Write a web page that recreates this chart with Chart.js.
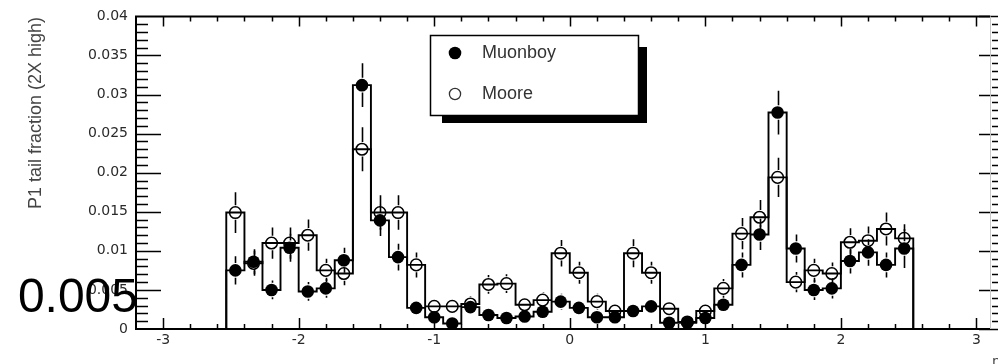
<!DOCTYPE html>
<html>
<head>
<meta charset="utf-8">
<title>P1 tail fraction</title>
<script src="https://cdn.jsdelivr.net/npm/chart.js@4.4.1/dist/chart.umd.min.js"></script>
<style>
  html, body { margin: 0; padding: 0; background: #fff; }
  canvas { display: block; }
</style>
</head>
<body>
<canvas id="chart_tail" width="998" height="364"></canvas>
<script>
// eta bin centres (38 bins)
var etaBins = [-2.467, -2.333, -2.2, -2.067, -1.933, -1.8, -1.667, -1.533, -1.4, -1.267,
               -1.133, -1.0, -0.867, -0.733, -0.6, -0.467, -0.333, -0.2, -0.067, 0.067,
               0.2, 0.333, 0.467, 0.6, 0.733, 0.867, 1.0, 1.133, 1.267, 1.4,
               1.533, 1.667, 1.8, 1.933, 2.067, 2.2, 2.333, 2.467];

var muonboy = [0.0075, 0.0086, 0.0050, 0.0104, 0.0048, 0.0052, 0.0088, 0.0312, 0.0139, 0.0092,
               0.0027, 0.0015, 0.0007, 0.0028, 0.0018, 0.0014, 0.0016, 0.0022, 0.0035, 0.0027,
               0.0015, 0.0015, 0.0023, 0.0029, 0.0008, 0.0008, 0.0014, 0.0031, 0.0082, 0.0121,
               0.0277, 0.0103, 0.0050, 0.0052, 0.0087, 0.0098, 0.0082, 0.0103];
var muonboyErr = [0.0018, 0.0016, 0.0012, 0.0018, 0.0012, 0.0012, 0.0016, 0.0028, 0.0020, 0.0017,
                  0.0008, 0.0007, 0.0005, 0.0009, 0.0007, 0.0006, 0.0007, 0.0008, 0.0010, 0.0009,
                  0.0007, 0.0007, 0.0008, 0.0009, 0.0005, 0.0005, 0.0006, 0.0009, 0.0016, 0.0020,
                  0.0028, 0.0018, 0.0013, 0.0013, 0.0016, 0.0017, 0.0016, 0.0025];

var moore = [0.0149, 0.0084, 0.0110, 0.0110, 0.0120, 0.0075, 0.0071, 0.0230, 0.0149, 0.0149,
             0.0082, 0.0029, 0.0029, 0.0032, 0.0057, 0.0058, 0.0031, 0.0037, 0.0097, 0.0072,
             0.0035, 0.0023, 0.0097, 0.0072, 0.0026, 0.0009, 0.0023, 0.0052, 0.0122, 0.0143,
             0.0194, 0.0060, 0.0075, 0.0071, 0.0111, 0.0113, 0.0128, 0.0116];
var mooreErr = [0.0026, 0.0016, 0.0020, 0.0020, 0.0020, 0.0015, 0.0015, 0.0028, 0.0022, 0.0022,
                0.0016, 0.0009, 0.0009, 0.0010, 0.0012, 0.0012, 0.0009, 0.0010, 0.0017, 0.0014,
                0.0010, 0.0008, 0.0018, 0.0014, 0.0009, 0.0005, 0.0008, 0.0012, 0.0020, 0.0022,
                0.0025, 0.0013, 0.0015, 0.0014, 0.0018, 0.0018, 0.0021, 0.0018];

var seriesNames = ['Muonboy', 'Moore'];
var xTickLabels = ['-3', '-2', '-1', '0', '1', '2', '3'];
var yTickLabels = ['0', '0.005', '0.01', '0.015', '0.02', '0.025', '0.03', '0.035', '0.04'];
var yAxisTitle = 'P1 tail fraction (2X high)';
var xAxisTitle = '\u03b7';
var overlayLabel = '0.005';

var X_MIN = -3.2, X_MAX = 3.1, Y_MIN = 0, Y_MAX = 0.04;
var MARKER_R = 6.3;

function histoPoints(values) {
    // step outline: rise at first edge, hold each bin, drop at last edge
    var half = (etaBins[1] - etaBins[0]) / 2;
    var pts = [{x: etaBins[0] - half, y: 0}];
    for (var i = 0; i < values.length; i++) {
        pts.push({x: etaBins[i] - half, y: values[i]});
    }
    pts.push({x: etaBins[etaBins.length - 1] + half, y: 0});
    return pts;
}

function markerPoints(values) {
    return values.map(function(v, i) { return {x: etaBins[i], y: v}; });
}

var errorBars = {
    id: 'errorBars',
    beforeDatasetsDraw: function(chart) {
        var ctx = chart.ctx, xs = chart.scales.x, ys = chart.scales.y;
        var sets = [[muonboy, muonboyErr], [moore, mooreErr]];
        ctx.save();
        ctx.strokeStyle = '#000';
        ctx.lineWidth = 1.6;
        sets.forEach(function(s) {
            for (var i = 0; i < s[0].length; i++) {
                var px = Math.round(xs.getPixelForValue(etaBins[i])) + 0.5;
                var py = ys.getPixelForValue(s[0][i]);
                var top = ys.getPixelForValue(s[0][i] + s[1][i]);
                var bot = ys.getPixelForValue(Math.max(0, s[0][i] - s[1][i]));
                ctx.beginPath();
                if (py - MARKER_R - 1 > top) { ctx.moveTo(px, top); ctx.lineTo(px, py - MARKER_R - 1); }
                if (py + MARKER_R + 1 < bot) { ctx.moveTo(px, py + MARKER_R + 1); ctx.lineTo(px, bot); }
                ctx.stroke();
            }
        });
        ctx.restore();
    }
};

var frameAxes = {
    id: 'frameAxes',
    afterDatasetsDraw: function(chart) {
        var ctx = chart.ctx, a = chart.chartArea, xs = chart.scales.x, ys = chart.scales.y;
        var i, p, major;
        ctx.save();
        ctx.strokeStyle = '#000';

        // x ticks, minor every 0.2
        ctx.lineWidth = 1.5;
        ctx.beginPath();
        for (i = -16; i <= 15; i++) {
            major = (i % 5 === 0);
            p = Math.round(xs.getPixelForValue(i * 0.2)) + 0.5;
            if (p <= a.left + 1 || p >= a.right - 1) continue;
            ctx.moveTo(p, a.bottom); ctx.lineTo(p, a.bottom - (major ? 11 : 5));
            ctx.moveTo(p, a.top); ctx.lineTo(p, a.top + (major ? 10 : 5));
        }
        ctx.stroke();

        // y ticks, minor every 0.001
        ctx.beginPath();
        for (i = 0; i <= 40; i++) {
            major = (i % 5 === 0);
            p = Math.round(ys.getPixelForValue(i * 0.001)) + 0.5;
            if (i > 0 && i < 40) {
                ctx.moveTo(a.left, p); ctx.lineTo(a.left + (major ? 25 : 12), p);
            }
            if (major) { ctx.moveTo(a.right - 11, p); ctx.lineTo(998, p); }
            else { ctx.moveTo(a.right + 2, p); ctx.lineTo(998, p); }
        }
        ctx.stroke();

        // right edge is faint in the original
        ctx.strokeStyle = '#c8c8c8';
        ctx.lineWidth = 1;
        ctx.beginPath();
        ctx.moveTo(a.right + 0.5, a.top); ctx.lineTo(a.right + 0.5, a.bottom);
        ctx.stroke();

        ctx.strokeStyle = '#000';
        ctx.lineWidth = 2;
        ctx.beginPath();
        ctx.moveTo(a.right, a.top); ctx.lineTo(a.left, a.top);
        ctx.lineTo(a.left, a.bottom); ctx.lineTo(a.right, a.bottom);
        ctx.stroke();
        ctx.restore();
    },
    afterDraw: function(chart) {
        var ctx = chart.ctx;
        ctx.save();

        // legend box with drop shadow
        ctx.fillStyle = '#000';
        ctx.fillRect(639, 47, 8, 76);
        ctx.fillRect(442, 116, 205, 7);
        ctx.fillStyle = '#fff';
        ctx.fillRect(430, 35, 209, 81);
        ctx.strokeStyle = '#000';
        ctx.lineWidth = 1.5;
        ctx.strokeRect(430.5, 35.5, 208, 80);

        ctx.beginPath();
        ctx.arc(455, 53, MARKER_R, 0, Math.PI * 2);
        ctx.fillStyle = '#000';
        ctx.fill();
        ctx.beginPath();
        ctx.arc(455, 94, MARKER_R - 0.7, 0, Math.PI * 2);
        ctx.lineWidth = 1.3;
        ctx.strokeStyle = '#333';
        ctx.stroke();

        ctx.fillStyle = '#333';
        ctx.font = '18px "Liberation Sans", Arial, sans-serif';
        ctx.textBaseline = 'middle';
        ctx.textAlign = 'left';
        ctx.fillText(seriesNames[0], 482, 53);
        ctx.fillText(seriesNames[1], 482, 94);

        // y axis title
        ctx.save();
        ctx.translate(36, 113);
        ctx.rotate(-Math.PI / 2);
        ctx.textAlign = 'center';
        ctx.fillStyle = '#444';
        ctx.font = '18px "Liberation Sans", Arial, sans-serif';
        ctx.fillText(yAxisTitle, 0, 0);
        ctx.restore();

        // x axis title, mostly cut off at the edge
        ctx.fillStyle = '#444';
        ctx.font = '14px "DejaVu Sans", sans-serif';
        ctx.textBaseline = 'top';
        ctx.fillText(xAxisTitle, 992, 355);

        // large label pasted over the axis
        ctx.fillStyle = '#000';
        ctx.font = '48px "Liberation Sans", Arial, sans-serif';
        ctx.textAlign = 'right';
        ctx.textBaseline = 'alphabetic';
        ctx.fillText(overlayLabel, 138, 312);
        ctx.restore();
    }
};

function createChart() {
    var ctx = document.getElementById('chart_tail').getContext('2d');
    var tickFont = {family: '"DejaVu Sans", sans-serif', size: 14};

    new Chart(ctx, {
        type: 'line',
        data: {
            datasets: [
                {
                    label: seriesNames[0] + ' markers',
                    data: markerPoints(muonboy),
                    showLine: false,
                    pointRadius: MARKER_R,
                    pointHoverRadius: MARKER_R,
                    pointBackgroundColor: '#000',
                    pointBorderColor: '#000',
                    pointBorderWidth: 0
                },
                {
                    label: seriesNames[1] + ' markers',
                    data: markerPoints(moore),
                    showLine: false,
                    pointRadius: MARKER_R - 0.5,
                    pointHoverRadius: MARKER_R - 0.5,
                    pointBackgroundColor: 'rgba(0,0,0,0)',
                    pointBorderColor: '#000',
                    pointBorderWidth: 1.5
                },
                {
                    label: seriesNames[0],
                    data: histoPoints(muonboy),
                    stepped: 'before',
                    borderColor: '#000',
                    borderWidth: 1.9,
                    pointRadius: 0,
                    fill: false
                },
                {
                    label: seriesNames[1],
                    data: histoPoints(moore),
                    stepped: 'before',
                    borderColor: '#000',
                    borderWidth: 1.9,
                    pointRadius: 0,
                    fill: false
                }
            ]
        },
        options: {
            responsive: false,
            animation: false,
            events: [],
            layout: {padding: {top: 15, right: 8, left: 0, bottom: 0}},
            plugins: {legend: {display: false}, tooltip: {enabled: false}},
            scales: {
                x: {
                    type: 'linear',
                    min: X_MIN,
                    max: X_MAX,
                    grid: {display: false, drawTicks: false},
                    border: {display: false},
                    afterBuildTicks: function(scale) {
                        scale.ticks = xTickLabels.map(function(t) { return {value: parseFloat(t)}; });
                    },
                    afterFit: function(scale) { scale.height = 35; },
                    ticks: {
                        padding: 3,
                        maxRotation: 0,
                        color: '#2a2a2a',
                        font: tickFont,
                        callback: function(v, i) { return xTickLabels[i]; }
                    }
                },
                y: {
                    type: 'linear',
                    min: Y_MIN,
                    max: Y_MAX,
                    grid: {display: false, drawTicks: false},
                    border: {display: false},
                    afterBuildTicks: function(scale) {
                        scale.ticks = yTickLabels.map(function(t) { return {value: parseFloat(t)}; });
                    },
                    afterFit: function(scale) { scale.width = 136; },
                    ticks: {
                        padding: 8,
                        color: '#2a2a2a',
                        font: tickFont,
                        callback: function(v, i) { return yTickLabels[i]; }
                    }
                }
            }
        },
        plugins: [errorBars, frameAxes]
    });
}

createChart();
</script>
</body>
</html>
